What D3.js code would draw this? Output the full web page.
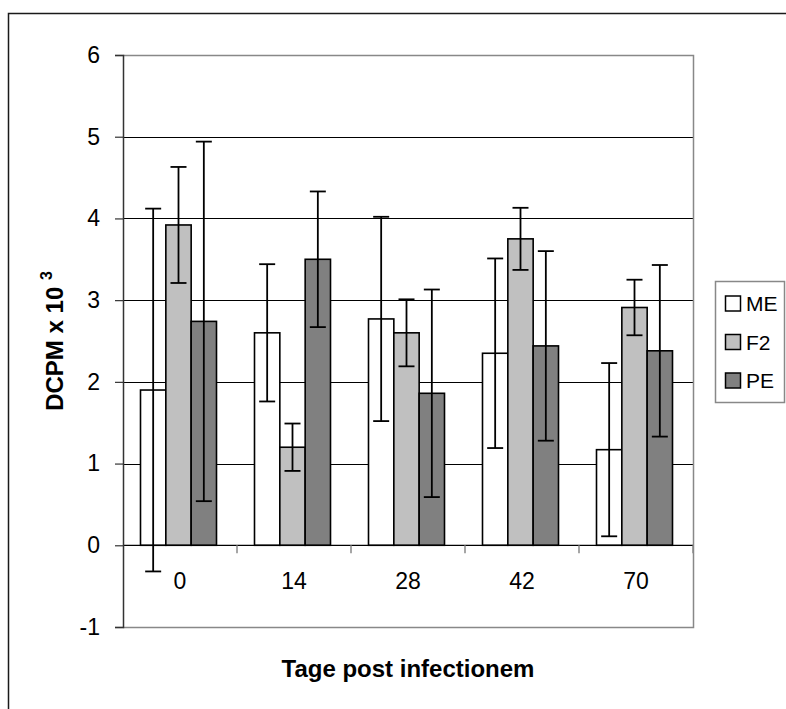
<!DOCTYPE html>
<html>
<head>
<meta charset="utf-8">
<script src="https://cdn.jsdelivr.net/npm/d3@7"></script>
<style>
  html, body { margin: 0; padding: 0; background: #fff; }
  svg { display: block; font-family: "Liberation Sans", Arial, sans-serif; }
</style>
</head>
<body>
<svg id="chart" width="786" height="709"></svg>
<script>
// ---- data ----
const categories = ["0", "14", "28", "42", "70"];
const seriesNames = ["ME", "F2", "PE"];
const meValues = [1.90, 2.60, 2.77, 2.35, 1.17];
const meErrors = [2.22, 0.84, 1.25, 1.16, 1.06];
const f2Values = [3.92, 1.20, 2.60, 3.75, 2.91];
const f2Errors = [0.71, 0.29, 0.41, 0.38, 0.34];
const peValues = [2.74, 3.50, 1.86, 2.44, 2.38];
const peErrors = [2.20, 0.83, 1.27, 1.16, 1.05];
const yTicks = [-1, 0, 1, 2, 3, 4, 5, 6];
const seriesColors = ["#ffffff", "#c0c0c0", "#808080"];
const yTitle = "DCPM x 10";
const ySup = "3";
const xTitle = "Tage post infectionem";

const seriesValues = [meValues, f2Values, peValues];
const seriesErrors = [meErrors, f2Errors, peErrors];

// ---- layout ----
const svg = d3.select("#chart");
const plot = { left: 123, right: 693, top: 55, bottom: 627 };

// outer frame (extends past right/bottom edge as in the reference)
svg.append("rect")
  .attr("x", 8.5).attr("y", 13.5)
  .attr("width", 800).attr("height", 720)
  .attr("fill", "#fff").attr("stroke", "#1a1a1a").attr("stroke-width", 1.5);

const x = d3.scaleBand().domain(categories).range([plot.left, plot.right]).paddingInner(0).paddingOuter(0);
const y = d3.scaleLinear().domain([-1, 6]).range([plot.bottom, plot.top]);
const groupPad = x.bandwidth() * (0.75 / 4.5);
const xs = d3.scaleBand().domain(seriesNames)
  .range([groupPad - 1.5, x.bandwidth() - groupPad - 1.5]).padding(0);

// gridlines
const g = svg.append("g");
g.selectAll("line.grid").data(yTicks.filter(t => t > 0 && t < 6)).join("line")
  .attr("class", "grid")
  .attr("x1", plot.left).attr("x2", plot.right)
  .attr("y1", d => Math.round(y(d)) + 0.5).attr("y2", d => Math.round(y(d)) + 0.5)
  .attr("stroke", "#000").attr("stroke-width", 1);

// plot area border (gray top/right/bottom)
g.append("path")
  .attr("d", `M${plot.left},${Math.round(y(6)) + 0.5}H${plot.right + 0.5}V${Math.round(y(-1)) + 0.5}H${plot.left}`)
  .attr("fill", "none").attr("stroke", "#888").attr("stroke-width", 1.5);

// bars
const groups = svg.append("g").selectAll("g.grp").data(categories).join("g")
  .attr("transform", d => `translate(${x(d)},0)`);

seriesNames.forEach((s, si) => {
  groups.append("rect")
    .attr("x", xs(s))
    .attr("width", xs.bandwidth())
    .attr("y", (d, i) => y(seriesValues[si][i]))
    .attr("height", (d, i) => y(0) - y(seriesValues[si][i]))
    .attr("fill", seriesColors[si])
    .attr("stroke", "#000").attr("stroke-width", 1.6);
});

// zero axis line + category ticks
svg.append("line")
  .attr("x1", plot.left).attr("x2", plot.right)
  .attr("y1", y(0)).attr("y2", y(0))
  .attr("stroke", "#000").attr("stroke-width", 1.2);
svg.append("g").selectAll("line").data(categories.slice(1).concat(["_end"])).join("line")
  .attr("x1", d => d === "_end" ? plot.right : x(d))
  .attr("x2", d => d === "_end" ? plot.right : x(d))
  .attr("y1", y(0)).attr("y2", y(0) + 8)
  .attr("stroke", "#888").attr("stroke-width", 1.5);

// error bars
seriesNames.forEach((s, si) => {
  const eg = groups.append("g");
  const cx = xs(s) + xs.bandwidth() / 2;
  eg.append("line")
    .attr("x1", cx).attr("x2", cx)
    .attr("y1", (d, i) => y(seriesValues[si][i] + seriesErrors[si][i]))
    .attr("y2", (d, i) => y(seriesValues[si][i] - seriesErrors[si][i]))
    .attr("stroke", "#000").attr("stroke-width", 1.8);
  [1, -1].forEach(sign => {
    eg.append("line")
      .attr("x1", cx - 8).attr("x2", cx + 8)
      .attr("y1", (d, i) => y(seriesValues[si][i] + sign * seriesErrors[si][i]))
      .attr("y2", (d, i) => y(seriesValues[si][i] + sign * seriesErrors[si][i]))
      .attr("stroke", "#000").attr("stroke-width", 1.8);
  });
});

// y axis
const yAxis = d3.axisLeft(y).tickValues(yTicks).tickSize(8).tickPadding(15).tickFormat(d => String(d));
const ya = svg.append("g").attr("transform", `translate(${plot.left},0)`).call(yAxis);
ya.select(".domain").attr("stroke", "#333").attr("stroke-width", 1.5);
ya.selectAll(".tick line").attr("stroke", "#333").attr("stroke-width", 1.2);
ya.selectAll(".tick text").attr("font-size", 23).attr("fill", "#000")
  .attr("font-family", "'Liberation Sans', Arial, sans-serif");

// category labels
svg.append("g").selectAll("text").data(categories).join("text")
  .attr("x", d => x(d) + x.bandwidth() / 2)
  .attr("y", 589)
  .attr("text-anchor", "middle")
  .attr("font-size", 23)
  .text(d => d);

// axis titles
svg.append("text")
  .attr("x", (plot.left + plot.right) / 2)
  .attr("y", 677)
  .attr("text-anchor", "middle")
  .attr("font-size", 24).attr("font-weight", "bold")
  .text(xTitle);

const yt = svg.append("text")
  .attr("transform", `translate(63,${(plot.top + plot.bottom) / 2}) rotate(-90)`)
  .attr("text-anchor", "middle")
  .attr("font-size", 24).attr("font-weight", "bold");
yt.append("tspan").text(yTitle + " ");
yt.append("tspan").attr("font-size", 16).attr("dy", -11).text(ySup);

// legend
const lg = svg.append("g");
lg.append("rect")
  .attr("x", 715.5).attr("y", 281.5).attr("width", 69).attr("height", 121)
  .attr("fill", "#fff").attr("stroke", "#888").attr("stroke-width", 1.5);
const li = lg.selectAll("g.li").data(seriesNames).join("g")
  .attr("transform", (d, i) => `translate(725,${303 + i * 38.5})`);
li.append("rect")
  .attr("x", 0.5).attr("y", -7).attr("width", 15).attr("height", 15)
  .attr("fill", (d, i) => seriesColors[i]).attr("stroke", "#000").attr("stroke-width", 1.5);
li.append("text")
  .attr("x", 21).attr("y", 8)
  .attr("font-size", 21)
  .text(d => d);
</script>
</body>
</html>
